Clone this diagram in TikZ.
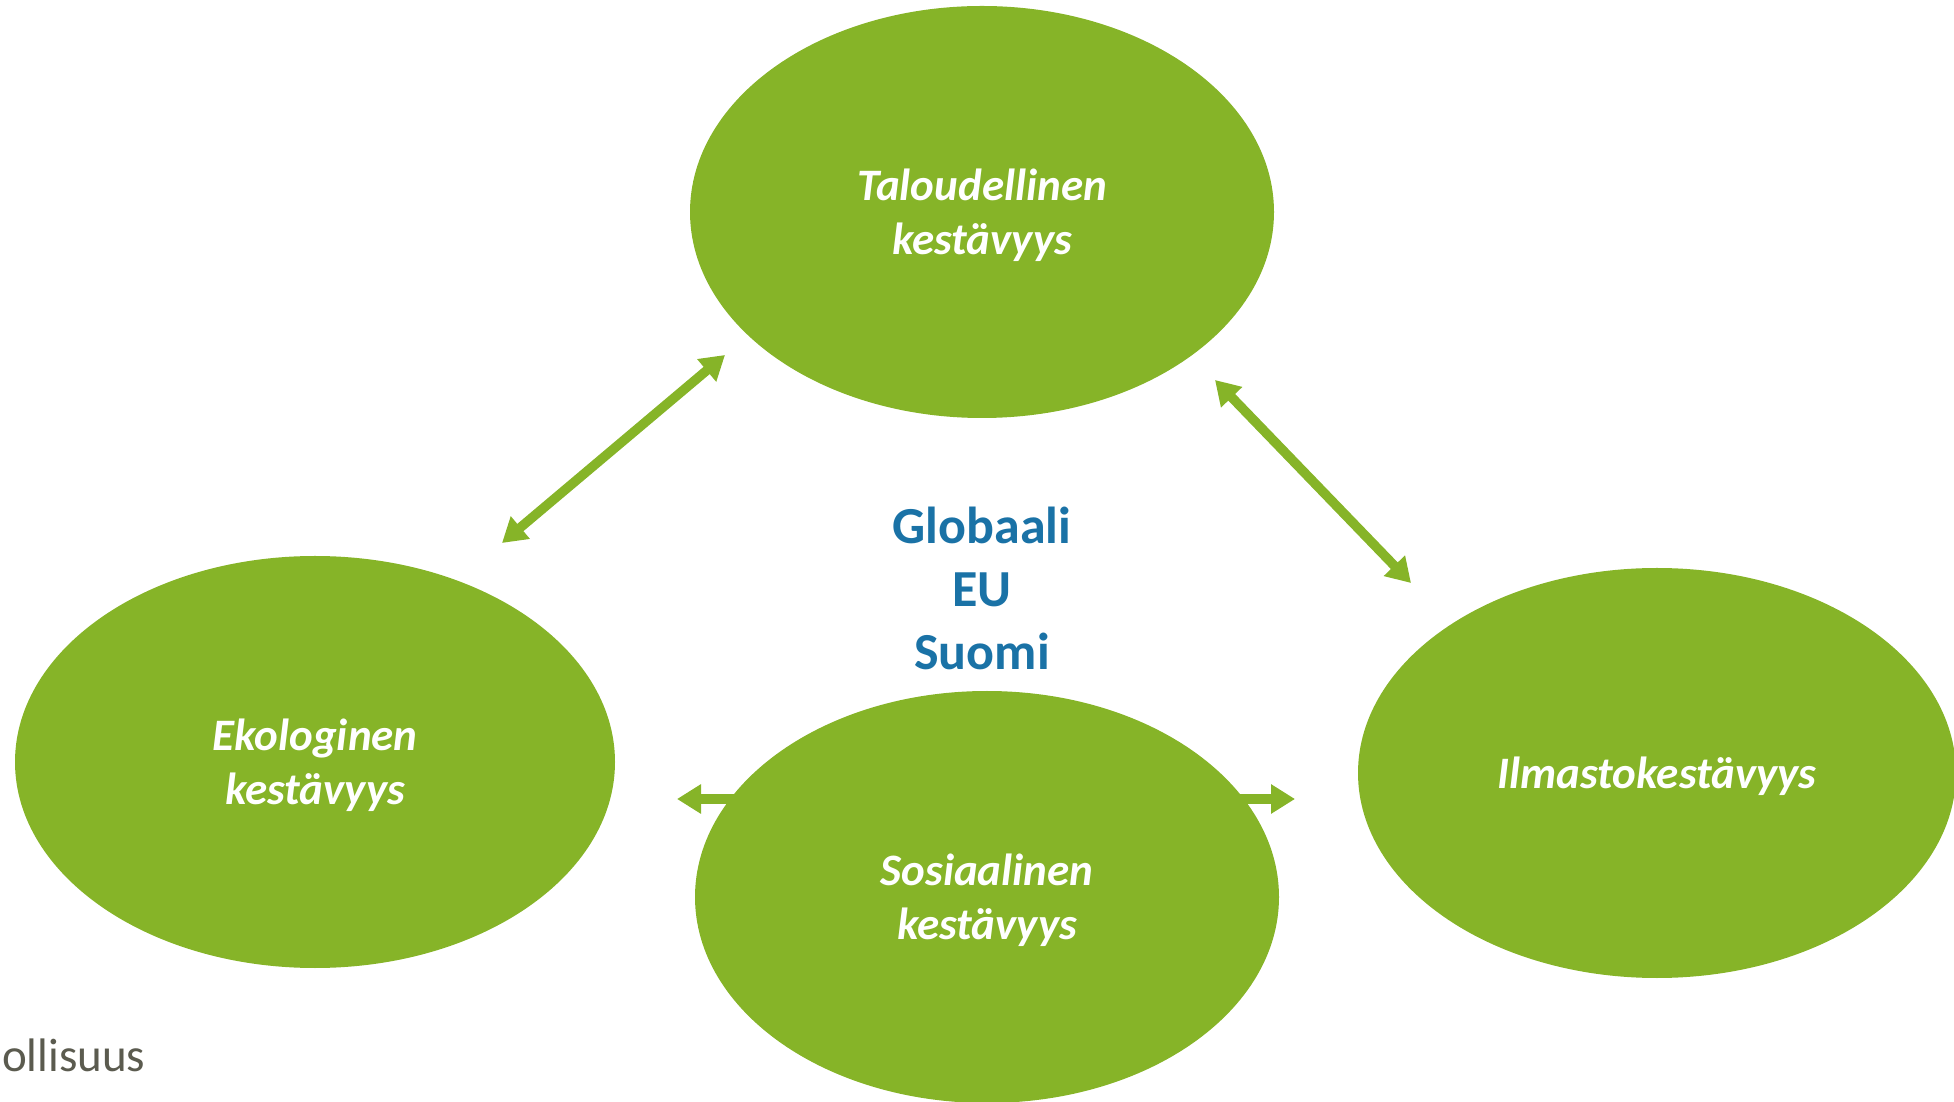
\documentclass[tikz,border=0pt]{standalone}
\usepackage{fontspec}
\setmainfont{Carlito}
\usetikzlibrary{shapes.geometric,arrows.meta}
\definecolor{leafgreen}{HTML}{86B428}
\definecolor{scopeblue}{HTML}{1A72A6}
\definecolor{footgray}{HTML}{5B5B4F}

\tikzstyle{pillar}=[ellipse,fill=leafgreen,inner sep=0pt,minimum width=584pt,minimum height=412pt,text=white,align=center,text depth=0pt,font=\fontsize{45}{54}\selectfont\bfseries\itshape]
\tikzstyle{link} = [draw,line width=9.5pt,leafgreen,{Triangle[length=24pt,width=28pt]}-{Triangle[length=24pt,width=28pt]}]

\begin{document}
\begin{tikzpicture}[x=1pt,y=1pt]
			\useasboundingbox (0,0) rectangle (1954,1101);
			% free ends of the arrows
			\coordinate (ekoTip) at (502,558);
			\coordinate (talLeft) at (725,746);
			\coordinate (talRight) at (1215,721);
			\coordinate (ilmTip) at (1411,518);
			\coordinate (sosLeft) at (677,302);
			\coordinate (sosRight) at (1295,302);
			% this one runs under the lower ellipse
			\path[link] (sosLeft) to (sosRight);
			\node[pillar] (talous) at (982,889) {Taloudellinen\\kestävyys};
			\node[pillar,minimum width=600pt] (eko) at (315,339) {Ekologinen\\kestävyys};
			\node[pillar] (sosiaali) at (987,204) {Sosiaalinen\\kestävyys};
			\node[pillar,minimum width=598pt,minimum height=410pt] (ilmasto) at (1657,328) {Ilmastokestävyys};
			\node[text=scopeblue,align=center,font=\fontsize{52}{63}\selectfont\bfseries] (taso) at (982,513) {Globaali\\EU\\Suomi};
			\node[text=footgray,anchor=base west,inner sep=0pt,font=\fontsize{47}{56}\selectfont] (ala) at (2,30) {ollisuus};
			% arrows between the ellipses
			\foreach \source/ \dest in {ekoTip/talLeft, talRight/ilmTip}
			\path[link] (\source) to (\dest);
\end{tikzpicture}
\end{document}
